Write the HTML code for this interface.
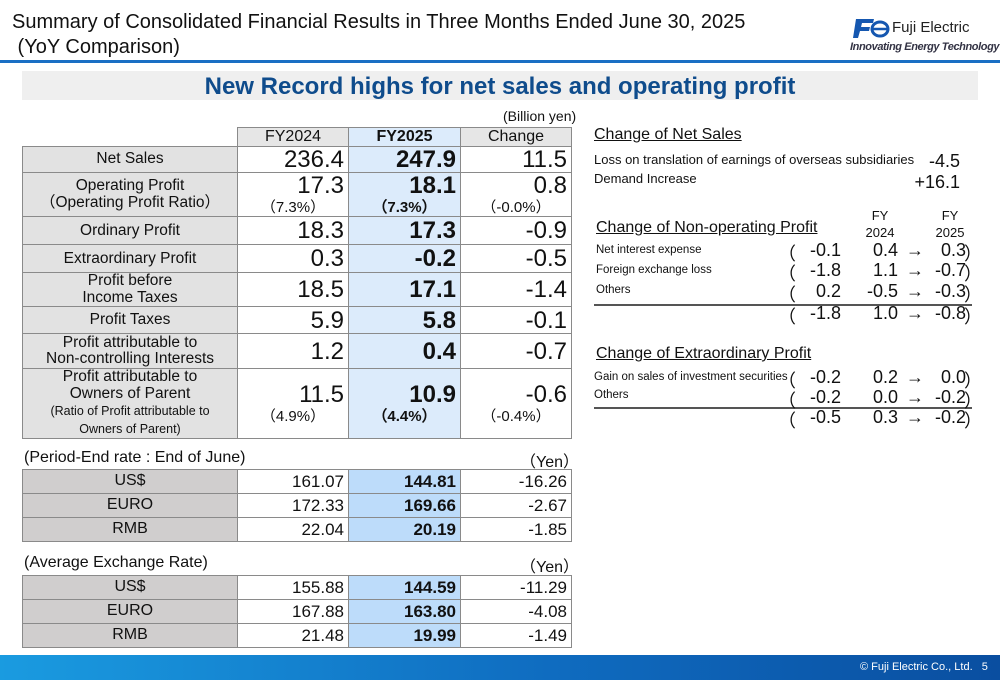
<!DOCTYPE html>
<html><head><meta charset="utf-8">
<style>
*{margin:0;padding:0;box-sizing:border-box}
body{width:1000px;height:685px;position:relative;background:#fff;font-family:"Liberation Sans",Arial,sans-serif;color:#111;overflow:hidden}
.a{position:absolute;white-space:nowrap}
table{border-collapse:collapse;position:absolute;table-layout:fixed}
td{border:1px solid #8a8a8a;padding:0 4px;vertical-align:middle;line-height:1.05}
.lab{background:#e2e2e2;text-align:center;font-size:15.5px}
.v{text-align:right;font-size:24px}
.b{background:#dcebfb;font-weight:bold}
.s{font-size:15px;display:block;text-align:center;margin-top:2px}
.hd td{font-size:16px;text-align:center;background:#e6e6e6}
.hd td.b{background:#dcebfb}
.fx td{font-size:17px;height:24px}
.fx .lab{background:#d0cece;font-size:16px}
.fx .b{background:#bddcfa}
.fx .v{font-size:17px}
.r{font-size:13px}
.u{text-decoration:underline;font-size:16px}
.n{font-size:18px;text-align:right}
</style></head><body>
<div class="a" style="left:12px;top:10px;font-size:20px;line-height:25px">Summary of Consolidated Financial Results in Three Months Ended June 30, 2025<br>&nbsp;(YoY Comparison)</div>
<div class="a" style="left:850px;top:17px;width:140px;height:40px">
 <svg width="40" height="22" style="position:absolute;left:0;top:0" viewBox="0 0 40 22"><path d="M6 2h18l-1 4H12l-1 4h9l-1 4h-9l-2 7H3z" fill="#1557b0"/><ellipse cx="30" cy="12" rx="8" ry="7" fill="none" stroke="#1557b0" stroke-width="3"/><path d="M22 12h16" stroke="#1557b0" stroke-width="2.5"/></svg>
 <span class="a" style="left:42px;top:2px;font-size:15px;color:#222">Fuji Electric</span>
 <span class="a" style="left:0;top:24px;font-size:11px;font-style:italic;font-weight:bold;color:#334;letter-spacing:-0.4px">Innovating Energy Technology</span>
</div>
<div class="a" style="left:0;top:60px;width:1000px;height:3px;background:#1a6fc4"></div>
<div class="a" style="left:22px;top:71px;width:956px;height:29px;background:#efefef;text-align:center;font-size:24px;font-weight:bold;color:#0f4c8c;line-height:32px">New Record highs for net sales and operating profit</div>
<div class="a" style="left:503px;top:108px;font-size:14px">(Billion yen)</div>

<table style="left:22px;top:127px;width:549px">
<colgroup><col style="width:215px"><col style="width:111px"><col style="width:112px"><col style="width:111px"></colgroup>
<tr class="hd" style="height:19px"><td style="border:none;background:#fff"></td><td>FY2024</td><td class="b">FY2025</td><td>Change</td></tr>
<tr style="height:24px"><td class="lab">Net Sales</td><td class="v">236.4</td><td class="v b">247.9</td><td class="v">11.5</td></tr>
<tr style="height:44px"><td class="lab">Operating Profit<br>（Operating Profit Ratio）</td><td class="v">17.3<span class="s">（7.3%）</span></td><td class="v b">18.1<span class="s">（7.3%）</span></td><td class="v">0.8<span class="s">（-0.0%）</span></td></tr>
<tr style="height:28px"><td class="lab">Ordinary Profit</td><td class="v">18.3</td><td class="v b">17.3</td><td class="v">-0.9</td></tr>
<tr style="height:28px"><td class="lab">Extraordinary Profit</td><td class="v">0.3</td><td class="v b">-0.2</td><td class="v">-0.5</td></tr>
<tr style="height:34px"><td class="lab">Profit before<br>Income Taxes</td><td class="v">18.5</td><td class="v b">17.1</td><td class="v">-1.4</td></tr>
<tr style="height:27px"><td class="lab">Profit Taxes</td><td class="v">5.9</td><td class="v b">5.8</td><td class="v">-0.1</td></tr>
<tr style="height:35px"><td class="lab">Profit attributable to<br>Non-controlling Interests</td><td class="v">1.2</td><td class="v b">0.4</td><td class="v">-0.7</td></tr>
<tr style="height:70px"><td class="lab">Profit attributable to<br>Owners of Parent<br><span style="font-size:12.5px;line-height:18px">(Ratio of Profit attributable to<br>Owners of Parent)</span></td><td class="v">11.5<span class="s">（4.9%）</span></td><td class="v b">10.9<span class="s">（4.4%）</span></td><td class="v">-0.6<span class="s">（-0.4%）</span></td></tr>
</table>

<div class="a" style="left:24px;top:449px;font-size:16px">(Period-End rate : End of June)</div>
<div class="a" style="left:520px;top:448px;font-size:16px">（Yen）</div>
<table class="fx" style="left:22px;top:469px;width:549px">
<colgroup><col style="width:215px"><col style="width:111px"><col style="width:112px"><col style="width:111px"></colgroup>
<tr><td class="lab">US$</td><td class="v">161.07</td><td class="v b">144.81</td><td class="v">-16.26</td></tr>
<tr><td class="lab">EURO</td><td class="v">172.33</td><td class="v b">169.66</td><td class="v">-2.67</td></tr>
<tr><td class="lab">RMB</td><td class="v">22.04</td><td class="v b">20.19</td><td class="v">-1.85</td></tr>
</table>

<div class="a" style="left:24px;top:554px;font-size:16px">(Average Exchange Rate)</div>
<div class="a" style="left:520px;top:553px;font-size:16px">（Yen）</div>
<table class="fx" style="left:22px;top:575px;width:549px">
<colgroup><col style="width:215px"><col style="width:111px"><col style="width:112px"><col style="width:111px"></colgroup>
<tr><td class="lab">US$</td><td class="v">155.88</td><td class="v b">144.59</td><td class="v">-11.29</td></tr>
<tr><td class="lab">EURO</td><td class="v">167.88</td><td class="v b">163.80</td><td class="v">-4.08</td></tr>
<tr><td class="lab">RMB</td><td class="v">21.48</td><td class="v b">19.99</td><td class="v">-1.49</td></tr>
</table>

<!-- right panel -->
<div class="a u" style="left:594px;top:126px">Change of Net Sales</div>
<div class="a r" style="left:594px;top:152px">Loss on translation of earnings of overseas subsidiaries</div>
<div class="a n" style="left:910px;top:151px;width:50px">-4.5</div>
<div class="a r" style="left:594px;top:171px">Demand Increase</div>
<div class="a n" style="left:900px;top:172px;width:60px">+16.1</div>

<div class="a u" style="left:596px;top:219px">Change of Non-operating Profit</div>
<div class="a" style="left:860px;top:207px;font-size:13px;text-align:center;width:40px;line-height:17px">FY<br>2024</div>
<div class="a" style="left:930px;top:207px;font-size:13px;text-align:center;width:40px;line-height:17px">FY<br>2025</div>

<div>
<div class="a" style="left:596px;top:244px;font-size:11.5px">Net interest expense</div>
<div class="a" style="left:596px;top:264px;font-size:11.5px">Foreign exchange loss</div>
<div class="a" style="left:596px;top:284px;font-size:11.5px">Others</div>
</div>
<div class="a" style="left:594px;top:304px;width:378px;height:2px;border-top:1px solid #555;border-bottom:1px solid #555"></div>
<div class="a" style="left:596px;top:345px;font-size:16px;text-decoration:underline">Change of Extraordinary Profit</div>
<div class="a" style="left:594px;top:371px;font-size:11.5px">Gain on sales of investment securities</div>
<div class="a" style="left:594px;top:389px;font-size:11.5px">Others</div>
<div class="a" style="left:594px;top:407px;width:378px;height:2px;border-top:1px solid #555;border-bottom:1px solid #555"></div>

<div id="figs"></div>
<script>
const rowsTop=[240,260,281,303,367,387,407];
const chg=["-0.1","-1.8","0.2","-1.8","-0.2","-0.2","-0.5"];
const prev=["0.4","1.1","-0.5","1.0","0.2","0.0","0.3"];
const curr=["0.3","-0.7","-0.3","-0.8","0.0","-0.2","-0.2"];
const f=document.getElementById('figs');
chg.forEach((c,i)=>{
 const t=rowsTop[i];
 const mk=(txt,l,w,al,n)=>{const d=document.createElement('div');d.className='a';
 
 
 d.style.cssText=`left:${l}px;top:${t}px;width:${w}px;text-align:${al};font-size:18px`;d.textContent=txt;f.appendChild(d);};
 mk('（',778,20,'left','open-paren');
 mk(c,795,46,'right','change-value');
 mk(prev[i],850,48,'right','prev-value');
 mk('→',900,30,'center','arrow');
 mk(curr[i],920,46,'right','curr-value');
 mk('）',964,20,'left','close-paren');
});
</script>

<div class="a" style="left:0;top:655px;width:1000px;height:25px;background:linear-gradient(90deg,#1a9be0,#0f6cc0 55%,#0a4ea0)"></div>
<div class="a" style="left:860px;top:661px;font-size:11px;color:#fff">© Fuji Electric Co., Ltd.&nbsp;&nbsp;&nbsp;5</div>
</body></html>
